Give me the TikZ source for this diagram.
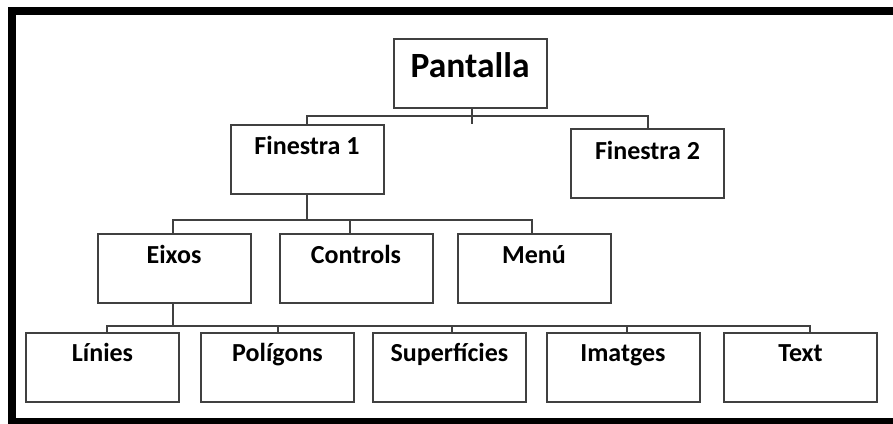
\documentclass[tikz,border=0pt]{standalone}
\usepackage{fontspec}
\setmainfont{Carlito}
\begin{document}
\begin{tikzpicture}[x=1pt,y=-1pt,
  box/.style={draw=boxgray,line width=2pt,minimum width=153pt,minimum height=69pt,inner sep=0pt},
  lbl/.style={anchor=base,inner sep=0pt,font=\fontsize{26}{30}\selectfont\bfseries},
  big/.style={anchor=base,inner sep=0pt,font=\fontsize{35.5}{40}\selectfont\bfseries},
  link/.style={draw=boxgray,line width=2pt}]
\definecolor{boxgray}{HTML}{404040}
\useasboundingbox (0,0) rectangle (893,423);
% outer frame, open to the right edge
\begin{scope}
\clip (0,0) rectangle (893,423);
\draw[line width=7.5pt] (12,11) rectangle (905,422);
\end{scope}
% boxes
\node[box] (p)  at (470,73.5) {};
\node[box] (f1) at (307,159) {};
\node[box] (f2) at (647.5,163.5) {};
\node[box] (e)  at (174,268.5) {};
\node[box] (c)  at (356,268.5) {};
\node[box] (m)  at (534,268.5) {};
\node[box] (l)  at (102.5,367) {};
\node[box] (po) at (277.5,367) {};
\node[box] (s)  at (449.5,367) {};
\node[box] (i)  at (623,367) {};
\node[box] (t)  at (800.5,367) {};
% labels (shifts are in canvas space: negative is downward)
\node[big] (pl)  at ([yshift=-39pt]p.north) {Pantalla};
\node[lbl] (f1l) at ([yshift=-31pt]f1.north) {Finestra 1};
\node[lbl] (f2l) at ([yshift=-31pt]f2.north) {Finestra 2};
\node[lbl] (el)  at ([yshift=-30pt]e.north) {Eixos};
\node[lbl] (cl)  at ([yshift=-30pt]c.north) {Controls};
\node[lbl] (ml)  at ([yshift=-30pt]m.north) {Menú};
\node[lbl] (ll)  at ([yshift=-30pt]l.north) {Línies};
\node[lbl] (pol) at ([yshift=-30pt]po.north) {Polígons};
\node[lbl] (sl)  at ([yshift=-30pt]s.north) {Superfícies};
\node[lbl] (il)  at ([yshift=-30pt]i.north) {Imatges};
\node[lbl] (tl)  at ([yshift=-30pt]t.north) {Text};
% connectors: first level
\coordinate (pstub) at ([xshift=2pt,yshift=-15pt]p.south);
\draw[link] ([xshift=2pt]p.south) -- (pstub);
\draw[link] (f1.north) -- ++(0,-8) -| (f2.north);
% second level
\draw[link] (f1.south) -- ++(0,26);
\draw[link] ([xshift=-1pt]e.north) -- ++(0,-13) -| ([xshift=-2pt]m.north);
\draw[link] ([xshift=-6pt]c.north) -- ++(0,-13);
% third level
\draw[link] ([xshift=-1pt]e.south) -- ++(0,22);
\draw[link] ([xshift=4.5pt]l.north) -- ++(0,-6) -| ([xshift=9.5pt]t.north);
\draw[link] (po.north) -- ++(0,-6);
\draw[link] ([xshift=2.5pt]s.north) -- ++(0,-6);
\draw[link] ([xshift=4pt]i.north) -- ++(0,-6);
\end{tikzpicture}
\end{document}
